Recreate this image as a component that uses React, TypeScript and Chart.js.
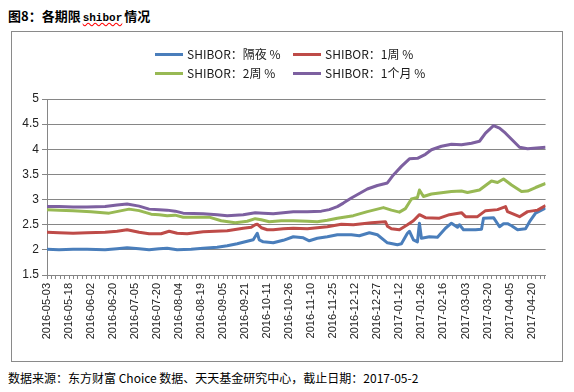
import React, { useEffect, useRef } from "react";
import { Chart, registerables } from "chart.js";

Chart.register(...registerables);

// Category tick labels, one every 11 trading days (index 0, 11, 22, ...)
const tickLabels = [
  "2016-05-03", "2016-05-18", "2016-06-02", "2016-06-20", "2016-07-05", "2016-07-20",
  "2016-08-04", "2016-08-19", "2016-09-05", "2016-09-21", "2016-10-11", "2016-10-26",
  "2016-11-10", "2016-11-25", "2016-12-12", "2016-12-27", "2017-01-12", "2017-01-26",
  "2017-02-16", "2017-03-03", "2017-03-20", "2017-04-05", "2017-04-20",
];
const lastIndex = 249;

// SHIBOR overnight
const onIdx = [0, 6, 13, 20, 29, 35, 40, 46, 51, 56, 60, 65, 72, 78, 85, 90, 95, 98, 103, 105, 106, 108, 113, 118, 123, 128, 131, 135, 140, 145, 152, 156, 161, 165, 170, 175, 177, 180, 181, 183, 185, 186, 187, 191, 195, 199, 202, 205, 206, 208, 214, 217, 218, 223, 226, 228, 230, 232, 235, 239, 241, 244, 249];
const onVal = [2.01, 2.0, 2.01, 2.01, 2.0, 2.02, 2.04, 2.02, 2.0, 2.02, 2.03, 2.0, 2.01, 2.03, 2.05, 2.08, 2.12, 2.15, 2.2, 2.33, 2.2, 2.16, 2.14, 2.19, 2.26, 2.24, 2.18, 2.23, 2.26, 2.3, 2.3, 2.28, 2.34, 2.3, 2.14, 2.1, 2.12, 2.33, 2.37, 2.2, 2.16, 2.53, 2.23, 2.26, 2.25, 2.43, 2.53, 2.45, 2.5, 2.4, 2.4, 2.41, 2.63, 2.64, 2.46, 2.52, 2.52, 2.48, 2.4, 2.42, 2.56, 2.73, 2.83];

// SHIBOR 1 week
const w1Idx = [0, 6, 13, 20, 29, 35, 40, 46, 51, 57, 61, 65, 70, 78, 90, 98, 102, 104, 105, 107, 110, 113, 118, 123, 130, 140, 147, 153, 162, 169, 170, 172, 176, 180, 183, 186, 189, 196, 201, 207, 209, 215, 219, 225, 229, 230, 236, 240, 245, 249];
const w1Val = [2.35, 2.34, 2.33, 2.34, 2.35, 2.37, 2.4, 2.35, 2.32, 2.32, 2.37, 2.33, 2.32, 2.36, 2.38, 2.43, 2.45, 2.5, 2.51, 2.44, 2.4, 2.4, 2.42, 2.43, 2.42, 2.46, 2.51, 2.5, 2.54, 2.56, 2.47, 2.42, 2.4, 2.5, 2.58, 2.7, 2.64, 2.63, 2.7, 2.74, 2.66, 2.66, 2.78, 2.8, 2.86, 2.76, 2.66, 2.76, 2.79, 2.88];

// SHIBOR 2 weeks
const w2Idx = [0, 6, 13, 22, 31, 36, 41, 46, 52, 56, 60, 64, 68, 75, 81, 87, 94, 100, 104, 107, 111, 117, 123, 130, 135, 140, 145, 153, 160, 168, 172, 176, 179, 182, 185, 186, 188, 192, 202, 207, 210, 216, 222, 225, 228, 232, 237, 240, 244, 249];
const w2Val = [2.8, 2.79, 2.78, 2.76, 2.73, 2.77, 2.81, 2.78, 2.71, 2.7, 2.68, 2.69, 2.65, 2.65, 2.65, 2.58, 2.54, 2.57, 2.62, 2.6, 2.56, 2.58, 2.58, 2.57, 2.56, 2.59, 2.63, 2.68, 2.76, 2.84, 2.79, 2.75, 2.82, 3.01, 3.04, 3.19, 3.06, 3.11, 3.16, 3.17, 3.14, 3.19, 3.37, 3.34, 3.41, 3.29, 3.16, 3.17, 3.24, 3.32];

// SHIBOR 1 month
const m1Idx = [0, 6, 13, 20, 29, 35, 40, 46, 51, 56, 60, 64, 68, 78, 85, 90, 98, 104, 108, 113, 118, 123, 130, 137, 141, 145, 148, 152, 156, 160, 165, 170, 173, 177, 181, 185, 189, 192, 197, 202, 207, 212, 216, 219, 223, 226, 229, 233, 236, 240, 249];
const m1Val = [2.86, 2.86, 2.85, 2.85, 2.86, 2.89, 2.91, 2.87, 2.81, 2.8, 2.79, 2.77, 2.73, 2.72, 2.7, 2.68, 2.7, 2.74, 2.73, 2.72, 2.74, 2.76, 2.76, 2.77, 2.8, 2.86, 2.93, 3.03, 3.12, 3.21, 3.28, 3.33, 3.49, 3.66, 3.81, 3.82, 3.9, 3.99, 4.06, 4.1, 4.09, 4.12, 4.16, 4.32, 4.47, 4.42, 4.32, 4.16, 4.04, 4.01, 4.04];

const seriesNames = ["SHIBOR：隔夜 %", "SHIBOR：1周 %", "SHIBOR：2周 %", "SHIBOR：1个月 %"];
const seriesColors = ["#4A7EBB", "#BE4B48", "#98B954", "#7D60A0"];

const toPoints = (xs: number[], ys: number[]) => xs.map((x, i) => ({ x, y: ys[i] }));

const gridLegend = {
  id: "gridLegend",
  afterDraw(chart: any) {
    const ctx = chart.ctx as CanvasRenderingContext2D;
    const cx = chart.width / 2;
    const colX = [cx - 132, cx + 6];
    const rowY = [22.5, 41.5];
    ctx.save();
    ctx.font = '12px "Noto Sans CJK SC", sans-serif';
    ctx.textBaseline = "middle";
    ctx.textAlign = "left";
    chart.data.datasets.forEach((ds: any, i: number) => {
      const x = colX[i % 2];
      const y = rowY[Math.floor(i / 2)];
      ctx.strokeStyle = ds.borderColor;
      ctx.lineWidth = 3;
      ctx.beginPath();
      ctx.moveTo(x, y);
      ctx.lineTo(x + 28, y);
      ctx.stroke();
      ctx.fillStyle = "#1a1a1a";
      ctx.fillText(ds.label, x + 32, y);
    });
    ctx.restore();
  },
};

export default function App() {
  const ref = useRef<HTMLCanvasElement>(null);

  useEffect(() => {
    if (!ref.current) return;
    const idxs = [onIdx, w1Idx, w2Idx, m1Idx];
    const vals = [onVal, w1Val, w2Val, m1Val];
    const tickStep = 11 / 5;
    const tickValues: number[] = [];
    for (let k = 0; k * tickStep <= lastIndex; k++) tickValues.push(k * tickStep);

    const chart = new Chart(ref.current, {
      type: "line",
      data: {
        datasets: seriesNames.map((name, i) => ({
          label: name,
          data: toPoints(idxs[i], vals[i]),
          borderColor: seriesColors[i],
          backgroundColor: seriesColors[i],
          borderWidth: 3,
          pointRadius: 0,
          tension: 0,
          fill: false,
          borderJoinStyle: "round" as const,
          order: 3 - i,
        })),
      },
      options: {
        responsive: false,
        animation: false,
        devicePixelRatio: 1,
        layout: { padding: { top: 67, right: 12, left: 0, bottom: 0 } },
        plugins: { legend: { display: false }, tooltip: { enabled: false } },
        scales: {
          x: {
            type: "linear",
            min: 0,
            max: lastIndex,
            afterBuildTicks: (scale: any) => {
              scale.ticks = tickValues.map((v) => ({ value: v }));
            },
            afterFit: (scale: any) => {
              scale.height = 86;
            },
            ticks: {
              autoSkip: false,
              minRotation: 90,
              maxRotation: 90,
              padding: 4,
              color: "#222",
              font: { family: '"Liberation Sans", Arial, sans-serif', size: 11 },
              callback: (_v: any, index: number) => (index % 5 === 0 ? tickLabels[index / 5] ?? "" : ""),
            },
            grid: { drawOnChartArea: false, drawTicks: true, tickLength: 4, color: "#868686" },
            border: { display: true, color: "#868686", width: 1 },
          },
          y: {
            min: 1.5,
            max: 5,
            afterFit: (scale: any) => {
              scale.width = 35;
            },
            ticks: {
              stepSize: 0.5,
              padding: 3,
              color: "#222",
              font: { family: '"Liberation Sans", Arial, sans-serif', size: 12 },
              callback: (v: any) => String(v),
            },
            grid: { color: "#868686", tickLength: 5, drawTicks: true },
            border: { display: true, color: "#868686", width: 1 },
          },
        },
      },
      plugins: [gridLegend],
    });
    return () => chart.destroy();
  }, []);

  return (
    <div style={{ position: "relative", width: 558, height: 378, fontFamily: '"Noto Sans CJK SC", sans-serif', color: "#000" }}>
      <div style={{ position: "absolute", left: 0, top: 0, fontSize: 13, fontWeight: "bold", lineHeight: "15px", whiteSpace: "nowrap" }}>
        图8：各期限
        <span style={{ fontFamily: '"Liberation Mono", monospace', fontSize: 11, margin: "0 2px", textDecoration: "underline wavy red" }}>shibor</span>
        情况
      </div>
      <div style={{ position: "absolute", left: 3, top: 23, width: 550, height: 329, border: "1px solid #8a8a8a", background: "#fff" }}>
        <canvas ref={ref} width={550} height={329} style={{ display: "block" }} />
      </div>
      <div style={{ position: "absolute", left: 0, top: 363, fontSize: 12, lineHeight: "14px", whiteSpace: "nowrap" }}>
        数据来源：东方财富 Choice 数据、天天基金研究中心，截止日期：2017-05-2
      </div>
    </div>
  );
}
